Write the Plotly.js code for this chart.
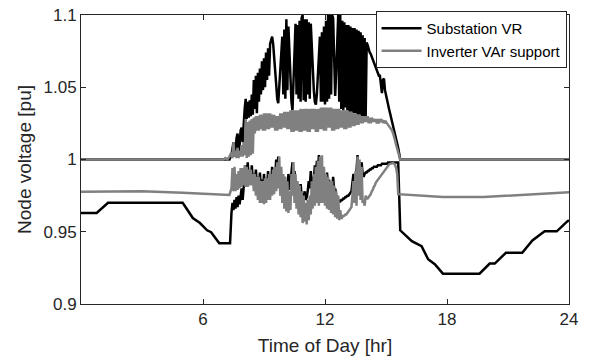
<!DOCTYPE html>
<html>
<head>
<meta charset="utf-8">
<script src="https://cdn.plot.ly/plotly-3.0.1.min.js"></script>
<style>html,body{margin:0;padding:0;background:#fff;}#chart{width:592px;height:360px;}</style>
</head>
<body>
<div id="chart"></div>
<script>
// Daytime sampling: first instant and spacing [hr] (165 samples, 7.40 ... 15.60)
const dayStartHr = 7.4;
const dayStepHr = 0.05;

// Substation VR - max node voltage
const vrMaxNightHours = [0, 7.3];
const vrMaxNight = [1.0, 1.0];
const vrMaxDay = [
  1.003,1.010,1.012,1.002,1.006,1.015,1.018,1.006,1.010,1.020,
  1.022,1.012,1.028,1.035,1.042,1.028,1.040,1.029,1.041,1.030,
  1.045,1.031,1.055,1.035,1.058,1.032,1.060,1.040,1.063,1.045,
  1.068,1.048,1.070,1.050,1.074,1.055,1.077,1.058,1.080,1.084,
  1.085,1.080,1.072,1.062,1.052,1.042,1.039,1.050,1.062,1.075,
  1.085,1.045,1.090,1.042,1.097,1.048,1.092,1.075,1.055,1.040,
  1.034,1.050,1.075,1.094,1.045,1.093,1.042,1.096,1.040,1.098,
  1.100,1.041,1.097,1.040,1.097,1.045,1.095,1.042,1.094,1.075,
  1.060,1.048,1.040,1.038,1.045,1.060,1.075,1.085,1.040,1.088,
  1.040,1.092,1.038,1.096,1.040,1.100,1.042,1.100,1.045,1.100,
  1.098,1.070,1.044,1.060,1.080,1.100,1.040,1.100,1.035,1.096,
  1.034,1.095,1.036,1.093,1.034,1.093,1.033,1.092,1.033,1.091,
  1.032,1.091,1.032,1.090,1.031,1.089,1.031,1.088,1.030,1.086,
  1.030,1.084,1.030,1.081,1.079,1.076,1.074,1.073,1.071,1.069,
  1.067,1.065,1.063,1.061,1.059,1.058,1.058,1.050,1.046,1.055,
  1.056,1.048,1.044,1.041,1.038,1.035,1.032,1.029,1.026,1.023,
  1.021,1.018,1.016,1.012,1.008];
const vrMaxEveHours = [15.7, 24];
const vrMaxEve = [1.0, 1.0];

// Substation VR - min node voltage
const vrMinNightHours = [0, 0.77, 1.33, 5.0, 5.5, 5.85, 6.2, 6.4, 6.8, 7.33];
const vrMinNight = [0.963, 0.963, 0.970, 0.970, 0.9595, 0.956, 0.951, 0.9497, 0.942, 0.942];
const vrMinDay = [
  0.963,0.970,0.965,0.972,0.966,0.974,0.967,0.975,0.969,0.977,
  0.980,0.972,0.985,0.990,0.996,0.985,0.998,0.986,0.992,0.984,
  0.996,0.985,0.990,0.983,0.993,0.982,0.988,0.980,0.991,0.979,
  0.986,0.978,0.990,0.979,0.984,0.980,0.992,0.981,0.985,0.983,
  0.995,0.985,0.990,0.988,1.000,0.990,1.002,0.988,0.992,0.983,
  0.985,0.979,0.988,0.978,0.982,0.976,0.990,0.979,0.984,0.990,
  0.998,0.985,0.992,0.980,0.985,0.978,0.980,0.974,0.983,0.975,
  0.976,0.973,0.978,0.972,0.974,0.978,0.985,0.980,0.992,0.982,
  0.988,0.985,0.996,0.987,0.999,0.990,1.003,0.990,0.995,0.985,
  0.990,0.982,0.985,0.980,0.991,0.981,0.986,0.979,0.982,0.977,
  0.988,0.978,0.980,0.975,0.974,0.972,0.971,0.971,0.972,0.972,
  0.973,0.973,0.974,0.974,0.975,0.975,0.976,0.977,0.978,0.984,
  0.990,0.982,0.980,0.992,1.003,0.988,0.985,0.995,0.998,0.990,
  0.988,0.990,0.991,0.991,0.992,0.992,0.993,0.993,0.994,0.994,
  0.995,0.995,0.995,0.995,0.996,0.996,0.996,0.996,0.997,0.997,
  0.997,0.997,0.997,0.997,0.998,0.998,0.998,0.998,0.998,0.998,
  0.998,0.998,0.998,0.998,0.998];
const vrMinEveHours = [15.7, 16.27, 16.75, 17.07, 17.4, 17.8, 19.6, 20.1, 20.35, 20.9, 21.7, 22.2, 22.8, 23.4, 23.9, 24];
const vrMinEve = [0.951, 0.9435, 0.940, 0.931, 0.9275, 0.921, 0.921, 0.928, 0.928, 0.9355, 0.9355, 0.944, 0.9503, 0.9503, 0.957, 0.958];

// Inverter VAr support - max node voltage
const invMaxNightHours = [0, 7.0, 7.1, 7.2, 7.3];
const invMaxNight = [1.0, 1.0, 1.001, 1.0, 1.002];
const invMaxDay = [
  1.005,1.001,1.012,1.002,1.006,1.001,1.008,1.001,1.006,1.002,
  1.010,1.002,1.012,1.003,1.028,1.001,1.026,1.002,1.027,1.003,
  1.028,1.004,1.029,1.018,1.030,1.020,1.030,1.020,1.031,1.021,
  1.031,1.020,1.032,1.020,1.032,1.021,1.032,1.021,1.032,1.022,
  1.031,1.022,1.031,1.020,1.030,1.020,1.030,1.021,1.032,1.021,
  1.032,1.022,1.033,1.022,1.033,1.021,1.033,1.021,1.034,1.019,
  1.034,1.019,1.034,1.020,1.034,1.020,1.034,1.019,1.035,1.019,
  1.035,1.020,1.035,1.020,1.035,1.019,1.035,1.019,1.035,1.021,
  1.035,1.021,1.035,1.019,1.035,1.019,1.035,1.021,1.036,1.021,
  1.036,1.020,1.036,1.020,1.036,1.022,1.036,1.022,1.036,1.020,
  1.035,1.020,1.035,1.021,1.035,1.021,1.035,1.022,1.034,1.022,
  1.034,1.021,1.034,1.021,1.034,1.022,1.033,1.022,1.033,1.023,
  1.032,1.023,1.032,1.024,1.031,1.024,1.031,1.025,1.030,1.025,
  1.030,1.026,1.030,1.026,1.030,1.025,1.029,1.025,1.029,1.026,
  1.028,1.026,1.028,1.025,1.028,1.025,1.028,1.026,1.027,1.026,
  1.027,1.025,1.026,1.025,1.024,1.023,1.022,1.021,1.020,1.018,
  1.016,1.013,1.010,1.007,1.004];
const invMaxEveHours = [15.7, 24];
const invMaxEve = [1.0, 1.0];

// Inverter VAr support - min node voltage
const invMinNightHours = [0, 1.5, 3.0, 5.0, 7.3];
const invMinNight = [0.9777, 0.978, 0.978, 0.977, 0.9755];
const invMinDay = [
  0.980,0.994,0.978,0.995,0.978,0.990,0.979,0.992,0.980,0.994,
  0.981,0.994,0.982,0.996,0.981,0.995,0.981,0.993,0.982,0.993,
  0.982,0.990,0.978,0.990,0.975,0.988,0.972,0.988,0.970,0.985,
  0.970,0.985,0.969,0.987,0.970,0.987,0.972,0.990,0.972,0.990,
  0.975,0.993,0.976,0.995,0.978,0.998,0.980,1.002,0.975,0.995,
  0.970,0.990,0.966,0.988,0.964,0.985,0.963,0.978,0.965,0.990,
  0.975,0.998,0.970,0.990,0.966,0.985,0.962,0.982,0.960,0.978,
  0.956,0.975,0.957,0.970,0.955,0.972,0.958,0.975,0.962,0.985,
  0.966,0.990,0.968,0.995,0.970,0.999,0.968,1.002,0.970,1.003,
  0.970,0.995,0.968,0.990,0.966,0.988,0.965,0.985,0.963,0.985,
  0.962,0.982,0.960,0.978,0.959,0.975,0.958,0.965,0.959,0.960,
  0.961,0.961,0.962,0.962,0.963,0.964,0.965,0.966,0.967,0.975,
  0.985,0.970,0.992,0.968,1.002,0.975,1.000,0.972,0.995,0.970,
  0.972,0.968,0.975,0.973,0.973,0.974,0.975,0.976,0.978,0.979,
  0.981,0.982,0.984,0.985,0.986,0.987,0.988,0.989,0.990,0.991,
  0.992,0.993,0.994,0.995,0.996,0.9965,0.997,0.9972,0.9975,0.9975,
  0.997,0.996,0.994,0.990,0.976];
const invMinEveHours = [16.5, 17.8, 19.8, 21.0, 22.5, 24];
const invMinEve = [0.975, 0.974, 0.974, 0.975, 0.976, 0.9773];

const xTickVals = [6, 12, 18, 24];
const xTickText = ['6', '12', '18', '24'];
const yTickVals = [0.9, 0.95, 1.0, 1.05, 1.1];
const yTickText = ['0.9', '0.95', '1', '1.05', '1.1'];

const seriesNames = ['Substation VR', 'Inverter VAr support'];
const seriesColors = ['#000000', '#808080'];

// sampling instants of the daytime records
const dayHours = vrMaxDay.map((_, i) => Math.round((dayStartHr + i * dayStepHr) * 100) / 100);

function join(a, b, c) { return a.concat(b, c); }

const traces = [
  {x: join(vrMaxNightHours, dayHours, vrMaxEveHours), y: join(vrMaxNight, vrMaxDay, vrMaxEve), grp: 0, leg: true},
  {x: join(vrMinNightHours, dayHours, vrMinEveHours), y: join(vrMinNight, vrMinDay, vrMinEve), grp: 0, leg: false},
  {x: join(invMaxNightHours, dayHours, invMaxEveHours), y: join(invMaxNight, invMaxDay, invMaxEve), grp: 1, leg: true},
  {x: join(invMinNightHours, dayHours, invMinEveHours), y: join(invMinNight, invMinDay, invMinEve), grp: 1, leg: false}
].map(t => ({
  type: 'scatter', mode: 'lines', x: t.x, y: t.y,
  name: seriesNames[t.grp], legendgroup: 'g' + t.grp, showlegend: t.leg,
  line: {color: seriesColors[t.grp], width: 2.5}
}));

const axisCommon = {
  showline: true, mirror: 'ticks', linecolor: '#262626', linewidth: 1,
  ticks: 'inside', ticklen: 5, tickwidth: 1, tickcolor: '#262626',
  showgrid: false, zeroline: false,
  tickfont: {family: 'Liberation Sans, Arial, sans-serif', size: 17, color: '#262626'}
};

const layout = {
  width: 592, height: 360,
  margin: {l: 81, r: 23, t: 11, b: 56},
  paper_bgcolor: '#ffffff', plot_bgcolor: '#ffffff',
  font: {family: 'Liberation Sans, Arial, sans-serif', color: '#262626'},
  xaxis: Object.assign({}, axisCommon, {
    range: [0, 24], tickvals: xTickVals, ticktext: xTickText,
    title: {text: 'Time of Day [hr]', font: {size: 19, color: '#262626'}, standoff: 10}
  }),
  yaxis: Object.assign({}, axisCommon, {
    range: [0.9, 1.1], tickvals: yTickVals, ticktext: yTickText,
    title: {text: 'Node voltage [pu]', font: {size: 19, color: '#262626'}, standoff: 6}
  }),
  legend: {
    x: 0.995, y: 1.014, xanchor: 'right', yanchor: 'top',
    bgcolor: '#ffffff', bordercolor: '#262626', borderwidth: 1,
    font: {size: 15, color: '#000000'}, tracegroupgap: 0, itemwidth: 40
  },
  showlegend: true
};

Plotly.newPlot('chart', traces, layout, {displayModeBar: false, staticPlot: true});
</script>
</body>
</html>
